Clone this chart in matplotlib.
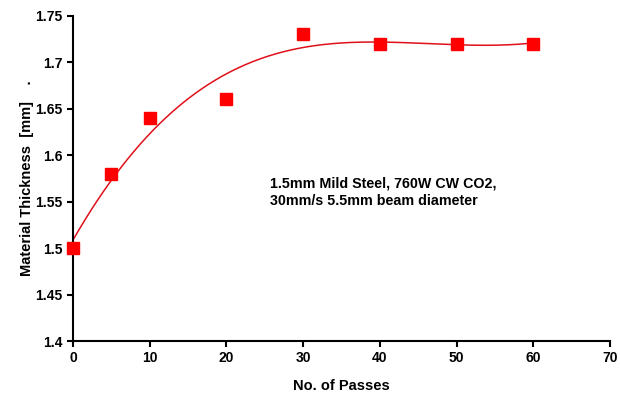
import numpy as np
import matplotlib
matplotlib.use("Agg")
import matplotlib.pyplot as plt

plt.rcParams['font.family'] = ['Liberation Sans', 'DejaVu Sans']

passes = [0, 5, 10, 20, 30, 40, 50, 60]
thickness = [1.50, 1.58, 1.64, 1.66, 1.73, 1.72, 1.72, 1.72]
xticks = [0, 10, 20, 30, 40, 50, 60, 70]
yticks = [1.4, 1.45, 1.5, 1.55, 1.6, 1.65, 1.7, 1.75]
ytick_labels = ['1.4', '1.45', '1.5', '1.55', '1.6', '1.65', '1.7', '1.75']

fig = plt.figure(figsize=(6.2, 3.97), dpi=100)
ax = fig.add_axes([0.1177, 0.141, 0.8661, 0.819])

coef = np.polyfit(passes, thickness, 3)
xs = np.linspace(min(passes), max(passes), 300)
ax.plot(xs, np.polyval(coef, xs), color='#e0101a', lw=1.1, zorder=2)
ax.plot(passes, thickness, 's', color='#ff0000', ms=8, mec='#ff0000', clip_on=False, zorder=3)

ax.set_xlim(0, 70)
ax.set_ylim(1.4, 1.75)
ax.set_xticks(xticks)
ax.set_yticks(yticks)
ax.set_yticklabels(ytick_labels)
for s in ['top', 'right']:
    ax.spines[s].set_visible(False)
for s in ['left', 'bottom']:
    ax.spines[s].set_linewidth(1.5)
ax.tick_params(direction='out', length=4, width=1.5, labelsize=10)
for lab in ax.get_xticklabels() + ax.get_yticklabels():
    lab.set_fontweight('bold')

ax.set_xlabel('No. of Passes', fontsize=10.5, fontweight='bold', labelpad=10)
ax.set_ylabel('Material Thickness  [mm]    .', fontsize=10.5, fontweight='bold', labelpad=1)

ax.text(0.367, 0.505, '1.5mm Mild Steel, 760W CW CO2,\n30mm/s 5.5mm beam diameter',
        transform=ax.transAxes, fontsize=10.3, fontweight='bold', va='top', ha='left',
        linespacing=1.3)

fig.savefig('out.png', dpi=100)
